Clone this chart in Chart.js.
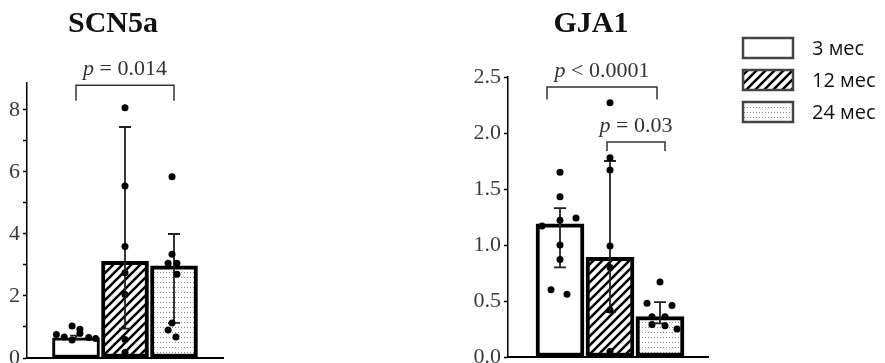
<!DOCTYPE html>
<html>
<head>
<meta charset="utf-8">
<title>SCN5a / GJA1</title>
<script src="https://cdn.jsdelivr.net/npm/chart.js"></script>
<style>
  html, body { margin: 0; padding: 0; background: #fff; }
  #wrap { position: relative; width: 885px; height: 363px; overflow: hidden; }
  canvas { position: absolute; top: 0; }
</style>
</head>
<body>
<div id="wrap">
  <canvas id="scn5a" width="240" height="363" style="left:0"></canvas>
  <canvas id="gja1" width="445" height="363" style="left:440px"></canvas>
</div>
<script>
// группы (возраст)
const groups = ['3 мес', '12 мес', '24 мес'];

// SCN5a: столбцы, разброс, отдельные точки
const scnMean = [0.65, 3.12, 2.97];
const scnLow  = [0.60, 0.95, 1.13];
const scnHigh = [0.72, 7.45, 4.00];
const scnDots = [
  [0.76, 1.03, 0.93, 0.68, 0.58, 0.80, 0.66, 0.63],
  [8.07, 5.55, 3.60, 2.75, 2.05, 0.60, 0.18],
  [5.85, 3.35, 3.06, 3.06, 2.70, 1.13, 0.90, 0.68]
];
const scnJitter = [
  [-0.40, -0.08, 0.08, -0.24, -0.08, 0.08, 0.26, 0.40],
  [0, 0, 0, 0, 0, 0, 0],
  [-0.04, -0.04, -0.12, 0.06, 0.06, -0.04, -0.12, 0.04]
];
const scnPvals = [
  { a: 0, b: 2, top: 8.8, foot: 8.3, text: '= 0.014' }
];

// GJA1
const gjaMean = [1.19, 0.89, 0.36];
const gjaLow  = [0.80, 0.40, 0.30];
const gjaHigh = [1.33, 1.75, 0.49];
const gjaDots = [
  [1.65, 1.43, 1.22, 1.24, 1.17, 1.00, 0.87, 0.60, 0.56],
  [2.27, 1.78, 1.67, 0.99, 0.80, 0.42, 0.05],
  [0.67, 0.48, 0.46, 0.36, 0.36, 0.29, 0.28, 0.25]
];
const gjaJitter = [
  [0, 0, 0, 0.32, -0.36, 0, 0, -0.18, 0.14],
  [0, 0, 0, 0, 0, 0, 0],
  [0, -0.26, 0.24, -0.16, 0.10, -0.16, 0.10, 0.34]
];
const gjaPvals = [
  { a: -0.26, b: 1.94, top: 2.41, foot: 2.30, text: '< 0.0001' },
  { a: 0.94, b: 2.10, top: 1.92, foot: 1.84, text: '= 0.03' }
];

// заливки столбцов
function hatchPattern() {
  const c = document.createElement('canvas');
  c.width = 9; c.height = 9;
  const g = c.getContext('2d');
  g.fillStyle = '#fff'; g.fillRect(0, 0, 9, 9);
  g.strokeStyle = '#000'; g.lineWidth = 2.6;
  g.beginPath();
  g.moveTo(-2, 11); g.lineTo(11, -2);
  g.moveTo(-2, 2); g.lineTo(2, -2);
  g.moveTo(7, 11); g.lineTo(11, 7);
  g.stroke();
  return g.createPattern(c, 'repeat');
}
function dotPattern() {
  const c = document.createElement('canvas');
  c.width = 3; c.height = 5;
  const g = c.getContext('2d');
  g.fillStyle = '#fff'; g.fillRect(0, 0, 3, 5);
  g.fillStyle = '#8a8a8a'; g.fillRect(1, 2, 1, 1);
  return g.createPattern(c, 'repeat');
}
const fills = ['#ffffff', hatchPattern(), dotPattern()];

const serif = '"Liberation Serif", "Times New Roman", serif';

function decor(cfg) {
  return {
    id: 'decor',
    afterDatasetDraw(chart, args) {
      if (args.index !== 0) return;
      const { ctx, scales: { x, y } } = chart;
      ctx.save();
      ctx.strokeStyle = '#222';
      ctx.lineWidth = 1.8;
      cfg.low.forEach((lo, i) => {
        const px = x.getPixelForValue(i);
        const y1 = y.getPixelForValue(lo);
        const y2 = y.getPixelForValue(cfg.high[i]);
        ctx.beginPath();
        ctx.moveTo(px, y1); ctx.lineTo(px, y2);
        ctx.moveTo(px - 6, y1); ctx.lineTo(px + 6, y1);
        ctx.moveTo(px - 6, y2); ctx.lineTo(px + 6, y2);
        ctx.stroke();
      });
      ctx.restore();
    },
    afterDraw(chart) {
      const { ctx, chartArea, scales: { x, y } } = chart;
      ctx.save();
      // скобки и p-значения
      cfg.pvals.forEach(p => {
        const xa = x.getPixelForValue(p.a), xb = x.getPixelForValue(p.b);
        const yt = y.getPixelForValue(p.top), yf = y.getPixelForValue(p.foot);
        ctx.strokeStyle = '#333';
        ctx.lineWidth = 1.5;
        ctx.beginPath();
        ctx.moveTo(xa, yf); ctx.lineTo(xa, yt); ctx.lineTo(xb, yt); ctx.lineTo(xb, yf);
        ctx.stroke();

        ctx.fillStyle = '#333';
        ctx.textBaseline = 'alphabetic';
        ctx.textAlign = 'left';
        const fi = 'italic 22px ' + serif, fr = '22px ' + serif;
        ctx.font = fi; const w1 = ctx.measureText('p ').width;
        ctx.font = fr; const w2 = ctx.measureText(p.text).width;
        const x0 = (xa + xb) / 2 - (w1 + w2) / 2;
        ctx.font = fi; ctx.fillText('p', x0, yt - 10);
        ctx.font = fr; ctx.fillText(p.text, x0 + w1, yt - 10);
      });
      // заголовок
      ctx.fillStyle = '#111';
      ctx.font = 'bold 30px ' + serif;
      ctx.textAlign = 'center';
      ctx.fillText(cfg.title, chartArea.left + cfg.titleDx, 32);
      // легенда
      if (cfg.legend) {
        const bx = chartArea.right + 35;
        groups.forEach((g, i) => {
          const by = 38 + i * 32;
          ctx.fillStyle = fills[i];
          ctx.fillRect(bx, by, 50, 20);
          ctx.strokeStyle = '#444';
          ctx.lineWidth = 2.5;
          ctx.strokeRect(bx, by, 50, 20);
          ctx.fillStyle = '#111';
          ctx.font = '20px "Open Sans", sans-serif';
          ctx.textAlign = 'left';
          ctx.textBaseline = 'middle';
          ctx.fillText(g, bx + 69, by + 11);
        });
      }
      ctx.restore();
    }
  };
}

function makeChart(id, cfg) {
  const barData = cfg.mean.map((v, i) => ({ x: i, y: v }));
  const dotData = [];
  cfg.dots.forEach((arr, i) => arr.forEach((v, k) => dotData.push({ x: i + cfg.jitter[i][k], y: v })));

  return new Chart(document.getElementById(id), {
    type: 'bar',
    data: {
      datasets: [
        {
          type: 'bar', data: barData, backgroundColor: fills,
          borderColor: '#000', borderWidth: cfg.borderW, borderSkipped: false,
          barThickness: cfg.barW, order: 2
        },
        {
          type: 'scatter', data: dotData, backgroundColor: '#000',
          pointRadius: 3.5, borderWidth: 0, order: 1, clip: false
        }
      ]
    },
    options: {
      responsive: false,
      animation: false,
      devicePixelRatio: 1,
      layout: { padding: { top: cfg.top, right: cfg.right, left: 0, bottom: 0 } },
      plugins: { legend: { display: false }, tooltip: { enabled: false } },
      scales: {
        x: {
          type: 'linear', min: cfg.xMin, max: cfg.xMax, offset: false,
          ticks: { display: false },
          grid: { display: false, offset: false },
          border: { display: true, color: '#000', width: 2 },
          afterFit: s => {
            s.height = cfg.xH;
            s.paddingLeft = s.paddingRight = 0;
          }
        },
        y: {
          min: 0, max: cfg.yMax,
          ticks: {
            stepSize: cfg.step, includeBounds: false, autoSkip: false,
            font: { family: serif, size: 22 }, color: '#3a3a3a', padding: 3,
            callback: cfg.fmt
          },
          grid: { drawOnChartArea: false, tickLength: 4, color: '#000', tickWidth: 1.5 },
          border: { color: '#000', width: 1.5 },
          afterFit: s => {
            s.width = cfg.yW;
            s.paddingTop = s.paddingBottom = 0;
          }
        }
      }
    },
    plugins: [decor(cfg)]
  });
}

makeChart('scn5a', {
  title: 'SCN5a', titleDx: 86,
  mean: scnMean, low: scnLow, high: scnHigh, dots: scnDots, jitter: scnJitter, pvals: scnPvals,
  top: 83, right: 17, xH: 5, yW: 27, xMin: -1, xMax: 3,
  yMax: 8.87, step: 1, fmt: v => (v % 2 === 0 ? v : ''),
  barW: 47, borderW: [3, 4, 4], legend: false
});

makeChart('gja1', {
  title: 'GJA1', titleDx: 83,
  mean: gjaMean, low: gjaLow, high: gjaHigh, dots: gjaDots, jitter: gjaJitter, pvals: gjaPvals,
  top: 77, right: 177, xH: 6, yW: 68, xMin: -1.04, xMax: 2.96,
  yMax: 2.5, step: 0.5, fmt: v => v.toFixed(1),
  barW: 48, borderW: 4, legend: true
});
</script>
</body>
</html>
